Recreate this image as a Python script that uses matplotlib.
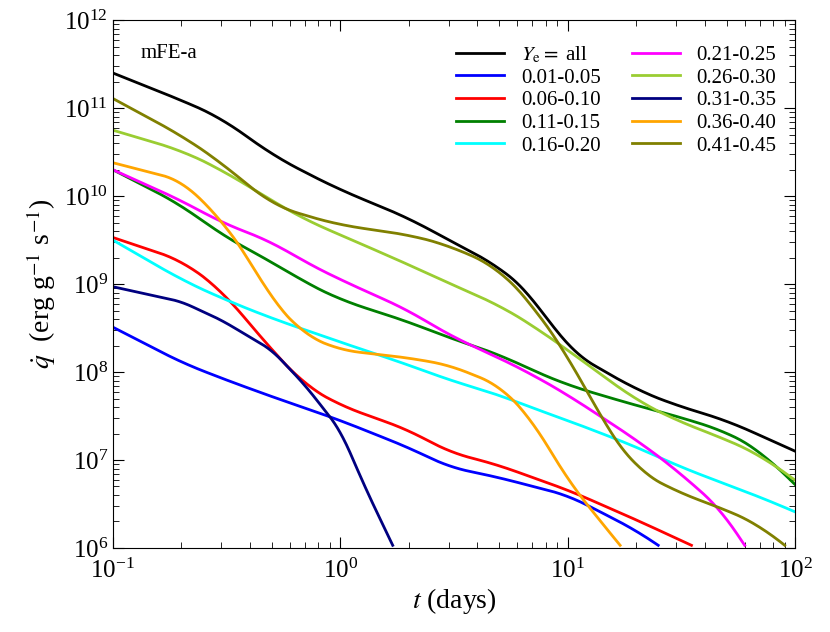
import numpy as np
import matplotlib
matplotlib.use("Agg")
import matplotlib.pyplot as plt

plt.rcParams['font.family'] = 'Liberation Serif'
plt.rcParams['mathtext.fontset'] = 'stix'

labels = [r"$Y_{\rm e}=$ all", "0.01-0.05", "0.06-0.10", "0.11-0.15", "0.16-0.20",
          "0.21-0.25", "0.26-0.30", "0.31-0.35", "0.36-0.40", "0.41-0.45"]
colors = ["black", "blue", "red", "green", "cyan", "magenta", "yellowgreen", "navy", "orange", "olive"]

t_all = [0.1,0.2,0.3,0.5,0.7,1,2,3,5,7,10,20,30,50,70,100]
q_all = [11.4,11.09,10.89,10.47,10.27,10.07,9.75,9.5,9.2,8.87,8.25,7.8,7.62,7.45,7.28,7.1]
t_b = [0.1,0.2,0.3,0.5,0.7,1,2,3,5,7,10,20,25]
q_b = [8.51,8.11,7.93,7.72,7.59,7.45,7.14,6.92,6.8,6.7,6.6,6.2,6.03]
t_r = [0.1,0.2,0.3,0.5,0.7,1,2,3,5,7,10,20,35]
q_r = [9.53,9.27,8.93,8.25,7.85,7.62,7.34,7.09,6.94,6.8,6.66,6.32,6.03]
t_g = [0.1,0.2,0.3,0.5,0.7,1,2,3,5,7,10,20,30,50,70,100]
q_g = [10.3,9.9,9.56,9.25,9.02,8.82,8.57,8.39,8.2,8.02,7.85,7.62,7.5,7.32,7.11,6.72]
t_c = [0.1,0.2,0.3,0.5,0.7,1,2,3,5,7,10,20,30,50,70,100]
q_c = [9.5,9.05,8.84,8.61,8.48,8.34,8.08,7.91,7.74,7.59,7.45,7.15,6.94,6.72,6.58,6.41]
t_m = [0.1,0.2,0.3,0.5,0.7,1,2,3,5,7,10,20,30,50,60]
q_m = [10.3,9.95,9.7,9.48,9.25,9.05,8.7,8.42,8.16,7.97,7.74,7.23,6.89,6.38,6.03]
t_y = [0.1,0.2,0.3,0.5,0.7,1,2,3,5,7,10,20,30,50,70,100]
q_y = [10.75,10.52,10.3,9.95,9.73,9.56,9.22,9.01,8.76,8.53,8.25,7.68,7.45,7.23,7.06,6.77]
t_n = [0.1,0.2,0.3,0.5,0.7,1,1.3,1.7]
q_n = [8.97,8.8,8.59,8.25,7.85,7.34,6.66,6.03]
t_o = [0.1,0.2,0.3,0.4,0.5,0.7,1,2,3,5,7,10,15,17]
q_o = [10.38,10.18,9.73,9.27,8.82,8.42,8.25,8.16,8.08,7.85,7.45,6.77,6.2,6.03]
t_ol = [0.1,0.2,0.3,0.5,0.7,1,2,3,5,7,10,15,20,30,50,70,90]
q_ol = [11.11,10.69,10.38,9.9,9.78,9.67,9.56,9.44,9.18,8.76,8.19,7.34,6.89,6.64,6.43,6.26,6.03]

series = [(t_all,q_all),(t_b,q_b),(t_r,q_r),(t_g,q_g),(t_c,q_c),(t_m,q_m),(t_y,q_y),(t_n,q_n),(t_o,q_o),(t_ol,q_ol)]

fig = plt.figure(figsize=(8.3,6.32), dpi=100)
ax = fig.add_axes([0.136, 0.133, 0.822, 0.835])
for (t,q),c,l in zip(series,colors,labels):
    lt = np.log10(t)
    x = np.linspace(lt[0], lt[-1], 400)
    y = np.interp(x, lt, q)
    k = 15
    yp = np.pad(y, k, mode='reflect', reflect_type='odd')
    ys = np.convolve(yp, np.ones(2*k+1)/(2*k+1), mode='same')[k:-k]
    ax.plot(10**x, 10**ys, color=c, lw=2, label=l)
ax.set_xscale('log'); ax.set_yscale('log')
ax.set_xlim(0.1,100); ax.set_ylim(1e6,1e12)
ax.set_xlabel(r"$t$ (days)", fontsize=20, labelpad=2)
ax.set_ylabel(r"$\dot{q}$  (erg g$^{-1}$ s$^{-1}$)", fontsize=20)
ax.tick_params(labelsize=18, which='both', direction='in', top=True, right=True)
ax.tick_params(axis='x', pad=8)
ax.tick_params(which='major', length=8); ax.tick_params(which='minor', length=4)
ax.text(0.04, 0.955, "mFE-a", transform=ax.transAxes, fontsize=15, va='top')
ax.legend(ncol=2, fontsize=15, frameon=False, loc='upper right', handlelength=2.3,
          columnspacing=1.5, labelspacing=0.15, bbox_to_anchor=(1.0,0.99))
fig.savefig("out.png", dpi=100)
